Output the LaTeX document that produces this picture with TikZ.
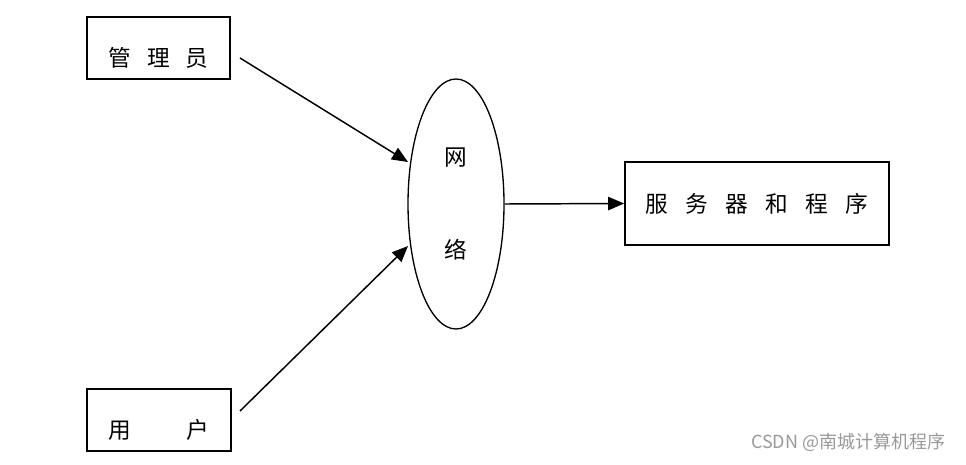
\documentclass[tikz,border=0pt]{standalone}
\usepackage{fontspec}
\newfontfamily\cjk{Noto Sans CJK SC}
\usetikzlibrary{arrows.meta,shapes.geometric}

\begin{document}
\begin{tikzpicture}[x=0.75pt, y=-0.75pt, font=\cjk\fontsize{17}{20}\selectfont,
    box/.style={rectangle, draw, line width=1.3pt, inner sep=0pt},
    lowtext/.style={text height=28pt, text depth=0pt},
    arr/.style={line width=1.1pt, -{Triangle[length=12pt, width=10pt]}}]
              \useasboundingbox (0,0) rectangle (966,464);

              \node[box, lowtext, minimum width=107pt, minimum height=46.5pt] (admin) at (158.5,48) {管\hspace{0.7em}理\hspace{0.7em}员};
              \node[box, lowtext, minimum width=108pt, minimum height=46.5pt] (user) at (159,420) {用\hspace{2.45em}户};
              \node[ellipse, draw, line width=1pt, inner sep=0pt, minimum width=72pt, minimum height=187.5pt, align=center] (net) at (456,204) {网\\[50pt]络};
              \node[box, minimum width=198pt, minimum height=62pt] (server) at (757,203.5) {服\hspace{0.77em}务\hspace{0.77em}器\hspace{0.77em}和\hspace{0.77em}程\hspace{0.77em}序};

              \coordinate (adminout) at (240,58);
              \coordinate (userout) at (240,411);
              \coordinate (netin1) at (408,162);
              \coordinate (netin2) at (408,246);

              \draw[arr] (adminout) -- (netin1);
              \draw[arr] (userout) -- (netin2);
              \draw[arr] (net.east) -- (server.west);

              \node[anchor=east, text=black!40, font=\cjk\fontsize{13.5}{16}\selectfont] (mark) at (950,442) {CSDN @南城计算机程序};
            \end{tikzpicture}
\end{document}
